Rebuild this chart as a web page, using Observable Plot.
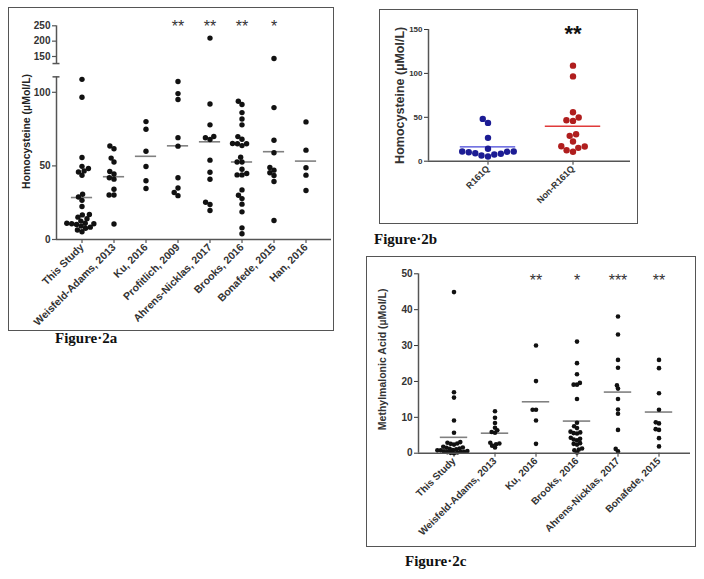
<!DOCTYPE html>
<html><head><meta charset="utf-8">
<script src="https://cdn.jsdelivr.net/npm/d3@7"></script>
<script src="https://cdn.jsdelivr.net/npm/@observablehq/plot@0.6"></script>
<style>
body{margin:0;background:#fff;}
#page{position:relative;width:704px;height:579px;overflow:hidden;background:#fff;}
.box{position:absolute;border:1px solid #555;box-sizing:border-box;}
.box svg{position:absolute;left:0;top:0;}
.cap{position:absolute;font-family:"Liberation Serif","Times New Roman",serif;font-weight:bold;font-size:15px;color:#111;white-space:nowrap;line-height:1;}
</style></head>
<body><div id="page">
<div class="box" id="boxA" style="left:8px;top:7px;width:326px;height:324px"></div>
<div class="cap" style="left:55px;top:331px">Figure·2a</div>
<div class="box" id="boxB" style="left:379px;top:9px;width:259px;height:215px"></div>
<div class="cap" style="left:374px;top:232px">Figure·2b</div>
<div class="box" id="boxC" style="left:366px;top:256px;width:330px;height:291px"></div>
<div class="cap" style="left:405px;top:554px">Figure·2c</div>
</div>
<script>
// ---------- Figure 2a: homocysteine by study ----------
const studiesA = ["This Study","Weisfeld-Adams, 2013","Ku, 2016","Profitlich, 2009","Ahrens-Nicklas, 2017","Brooks, 2016","Bonafede, 2015","Han, 2016"];
const hcyThisStudy = [108.8,96.6,55.7,49.7,48.2,46.6,45.9,43.6,30.7,28.9,26.6,22.4,17.0,16.7,15.2,14.1,12.5,11.0,11.0,10.7,10.7,10.2,9.1,8.4,7.6,6.5,5.3];
const hcyWeisfeld = [63.5,61.7,55.3,52.6,46.2,44.5,42.0,41.0,34.1,30.2,30.2,10.5];
const hcyKu = [80.1,74.9,60.0,49.6,39.9,34.6];
const hcyProfitlich = [107.3,99.1,95.1,69.2,63.4,41.9,35.0,31.9,29.8];
const hcyAhrens = [210,92.1,77.9,70.0,69.1,67.9,53.9,45.7,40.9,25.3,23.8,19.7];
const hcyBrooks = [93.9,91.7,86.2,81.9,77.9,69.9,68.1,65.2,65.0,65.0,63.8,55.9,52.7,52.7,47.7,44.8,43.9,43.9,33.7,30.1,27.8,24.0,18.8,7.9,3.9];
const hcyBonafede = [143.5,89.6,67.4,58.9,48.9,47.1,45.3,43.5,39.4,12.9];
const hcyHan = [79.9,60.7,48.7,43.7,33.3];
const starStudiesA = ["Profitlich, 2009","Ahrens-Nicklas, 2017","Brooks, 2016","Bonafede, 2015"];
const starLabelsA = ["**","**","**","*"];
const yTicksA = [0,50,100,150,200,250];
const yMaxA = 250;

// ---------- Figure 2b: R161Q vs non-R161Q ----------
const groupsB = ["R161Q","Non-R161Q"];
const hcyR161Q = [48.2,43.6,26.6,14.1,11.0,11.0,10.7,10.2,9.1,8.4,7.6,6.5,5.3];
const hcyNonR161Q = [108.8,96.6,55.7,49.7,46.6,45.9,30.7,28.9,22.4,17.0,16.7,15.2,12.5,10.7];
const starGroupsB = ["Non-R161Q"];
const starLabelsB = ["**"];
const yTicksB = [0,50,100,150];

// ---------- Figure 2c: methylmalonic acid by study ----------
const studiesC = ["This Study","Weisfeld-Adams, 2013","Ku, 2016","Brooks, 2016","Ahrens-Nicklas, 2017","Bonafede, 2015"];
const mmaThisStudy = [44.9,17.0,15.5,9.1,5.7,3.1,2.9,2.7,2.6,2.4,1.8,1.6,1.5,1.3,1.2,1.1,0.9,0.8,0.8,0.6,0.5,0.4,0.4,0.3,0.2,0.1,0.0];
const mmaWeisfeld = [11.7,9.9,8.4,7.1,6.4,5.9,5.7,2.9,2.7,2.5,2.1,1.6];
const mmaKu = [30.0,20.1,12.1,12.1,9.1,2.6];
const mmaBrooks = [31.1,25.1,22.0,19.6,19.1,19.1,15.1,8.5,7.5,7.0,6.0,5.8,5.6,5.5,4.3,4.0,3.8,3.6,2.8,2.6,2.4,1.3,1.0,0.8,0.2];
const mmaAhrens = [38.1,33.1,26.0,23.8,18.9,18.0,15.1,12.2,11.0,6.5,1.2,0.5];
const mmaBonafede = [26.0,23.7,16.7,12.1,8.6,8.3,6.7,6.5,4.2,1.9];
const starStudiesC = ["Ku, 2016","Brooks, 2016","Ahrens-Nicklas, 2017","Bonafede, 2015"];
const starLabelsC = ["**","*","***","**"];
const yTicksC = [0,10,20,30,40,50];

const FONT = "'Liberation Sans', Arial, sans-serif";
const AXIS = "#555";
const baseStyle = (size) => ({background: "transparent", fontFamily: FONT, fontSize: size + "px", fontWeight: "bold", color: "#333", overflow: "visible"});

// Broken y axis of Figure 2a: linear up to breakLow, a gap, then a compressed segment from breakHigh.
const breakLow = 110.5, breakHigh = 127, breakGap = 9.03, upperScale = 0.2085;
const brk = v => v <= breakLow ? v : breakLow + breakGap + (v - breakHigh) * upperScale;

function sizeLabel(svg, label, size) {
  svg.querySelectorAll("text").forEach(t => {
    if (t.textContent.trim().startsWith(label)) t.style.fontSize = size + "px";
  });
}
// long table: one row per dot, with its group mean attached
function long(cats, series, key) {
  return cats.flatMap((c, i) => {
    const m = d3.mean(series[i]);
    return d3.sort(series[i]).map(v => ({[key]: c, value: v, mean: m}));
  });
}

// ===== Panel A =====
{
  const data = long(studiesA, [hcyThisStudy,hcyWeisfeld,hcyKu,hcyProfitlich,hcyAhrens,hcyBrooks,hcyBonafede,hcyHan], "study");
  const starOf = new Map(starStudiesA.map((s, i) => [s, starLabelsA[i]]));
  const W = 324, H = 322, ML = 47, MT = 10, MB = 91;
  const yScale = {domain: [0, brk(yMaxA)], range: [231, 17.3]};
  const facetPlot = Plot.plot({
    width: W, height: H, marginLeft: ML, marginRight: 2, marginTop: MT, marginBottom: MB,
    style: baseStyle(10.5),
    facet: {data, x: "study"},
    fx: {domain: studiesA, paddingInner: 0.1, paddingOuter: 0.2167, axis: "bottom", tickRotate: -45, tickSize: 4, tickPadding: 2, label: null},
    y: {...yScale, axis: null},
    marks: [
      Plot.ruleY(data, Plot.selectFirst({y: d => brk(d.mean), stroke: "#808080", strokeWidth: 1.6, insetLeft: 3.9, insetRight: 3.9})),
      Plot.dot(data, Plot.dodgeX({anchor: "middle", padding: -0.5}, {y: d => brk(d.value), r: 2.7, fill: "#111", stroke: "none"})),
      Plot.text(data, Plot.selectFirst({text: d => starOf.get(d.study) ?? "", frameAnchor: "top", lineAnchor: "middle", dy: 8, fontSize: 16, fontWeight: "normal", fill: "#333"}))
    ]
  });
  const axisPlot = Plot.plot({
    width: W, height: H, marginLeft: ML, marginRight: 2, marginTop: MT, marginBottom: MB,
    style: baseStyle(10),
    x: {domain: [0, 275], axis: null},
    y: {...yScale, axis: null},
    marks: [
      Plot.ruleX([[0, breakLow], [breakHigh, yMaxA]], {x: 0, y1: d => brk(d[0]), y2: d => brk(d[1]), stroke: AXIS, strokeWidth: 1.5}),
      Plot.ruleY([breakLow, breakHigh], {y: brk, x1: -3.5, x2: 3.5, stroke: AXIS, strokeWidth: 1.5}),
      Plot.ruleY(yTicksA, {y: brk, x1: -4, x2: 0, stroke: AXIS, strokeWidth: 1.2}),
      Plot.text(yTicksA, {y: brk, x: -6, text: d => String(d), textAnchor: "end", fill: "#333"}),
      Plot.text(["Homocysteine (µMol/L)"], {frameAnchor: "left", textAnchor: "middle", lineAnchor: "middle", dx: -30, dy: 2.5, rotate: -90, text: d => d, fontSize: 10.5, fill: "#222"}),
      Plot.ruleY([0], {stroke: AXIS, strokeWidth: 1.5})
    ]
  });
  document.getElementById("boxA").append(facetPlot, axisPlot);
}

// ===== Panel B =====
{
  const data = long(groupsB, [hcyR161Q, hcyNonR161Q], "group");
  const starOf = new Map(starGroupsB.map((s, i) => [s, starLabelsB[i]]));
  const W = 257, H = 213, ML = 48, MT = 19, MB = 62.3;
  const yRange = [150.7, 19];
  const isR = d => d.group === "R161Q";
  const isN = d => d.group !== "R161Q";
  const facetPlot = Plot.plot({
    width: W, height: H, marginLeft: ML, marginRight: 5, marginTop: MT, marginBottom: MB,
    style: baseStyle(9),
    facet: {data, x: "group"},
    fx: {domain: groupsB, paddingInner: 0.3, paddingOuter: 0.35, axis: "bottom", tickRotate: -45, tickSize: 4, tickPadding: 2, label: null},
    y: {domain: [0, 150], range: yRange, axis: null},
    marks: [
      Plot.ruleY(data, Plot.selectFirst({filter: isR, y: "mean", stroke: "#4444d8", strokeWidth: 1.3, insetLeft: 1.8, insetRight: 1.8})),
      Plot.ruleY(data, Plot.selectFirst({filter: isN, y: "mean", stroke: "#e03a3a", strokeWidth: 1.3, insetLeft: 1.8, insetRight: 1.8})),
      Plot.dot(data, Plot.dodgeX({anchor: "middle", padding: 0.2}, {filter: isR, y: "value", r: 3.2, fill: "#1c1c94", stroke: "none"})),
      Plot.dot(data, Plot.dodgeX({anchor: "middle", padding: 0.2}, {filter: isN, y: "value", r: 3.2, fill: "#b01e1e", stroke: "none"})),
      Plot.text(data, Plot.selectFirst({text: d => starOf.get(d.group) ?? "", frameAnchor: "top", lineAnchor: "middle", dy: 4.5, fontSize: 22, fontWeight: "bold", fill: "#111"}))
    ]
  });
  const axisPlot = Plot.plot({
    width: W, height: H, marginLeft: ML, marginRight: 7, marginTop: MT, marginBottom: MB,
    style: baseStyle(8),
    x: {domain: [0, 202], axis: null},
    y: {domain: [0, 150], range: yRange, ticks: yTicksB, tickSize: 4, tickPadding: 2, label: "Homocysteine (µMol/L)", labelAnchor: "center", labelOffset: 33, labelArrow: false},
    marks: [
      Plot.ruleX([0], {x: 0, y1: 0, y2: 150, stroke: AXIS, strokeWidth: 1.5}),
      Plot.ruleY([0], {stroke: AXIS, strokeWidth: 1.5})
    ]
  });
  sizeLabel(axisPlot, "Homocysteine", 12.5);
  document.getElementById("boxB").append(facetPlot, axisPlot);
}

// ===== Panel C =====
{
  const data = long(studiesC, [mmaThisStudy,mmaWeisfeld,mmaKu,mmaBrooks,mmaAhrens,mmaBonafede], "study");
  const starOf = new Map(starStudiesC.map((s, i) => [s, starLabelsC[i]]));
  const W = 328, H = 289, ML = 51, MT = 8, MB = 93.3;
  const yRange = [195.7, 16.3];
  const facetPlot = Plot.plot({
    width: W, height: H, marginLeft: ML, marginRight: 2, marginTop: MT, marginBottom: MB,
    style: baseStyle(10),
    facet: {data, x: "study"},
    fx: {domain: studiesC, paddingInner: 0.1, paddingOuter: 0.34, axis: "bottom", tickRotate: -45, tickSize: 4, tickPadding: 2, label: null},
    y: {domain: [0, 50], range: yRange, axis: null},
    marks: [
      Plot.ruleY(data, Plot.selectFirst({y: "mean", stroke: "#808080", strokeWidth: 1.6, insetLeft: 4.8, insetRight: 4.8})),
      Plot.dot(data, Plot.dodgeX({anchor: "middle", padding: -1.2}, {y: "value", r: 2.3, fill: "#111", stroke: "none"})),
      Plot.text(data, Plot.selectFirst({text: d => starOf.get(d.study) ?? "", frameAnchor: "top", lineAnchor: "middle", dy: 15, fontSize: 16, fontWeight: "normal", fill: "#333"}))
    ]
  });
  const axisPlot = Plot.plot({
    width: W, height: H, marginLeft: ML, marginRight: 5, marginTop: MT, marginBottom: MB,
    style: baseStyle(10),
    x: {domain: [0, 272], axis: null},
    y: {domain: [0, 50], range: yRange, ticks: yTicksC, tickSize: 4, tickPadding: 2, label: "Methylmalonic Acid (µMol/L)", labelAnchor: "center", labelOffset: 40, labelArrow: false},
    marks: [
      Plot.ruleX([0], {x: 0, y1: 0, y2: 50, stroke: AXIS, strokeWidth: 1.5}),
      Plot.ruleY([0], {stroke: AXIS, strokeWidth: 1.5})
    ]
  });
  sizeLabel(axisPlot, "Methylmalonic", 10.5);
  document.getElementById("boxC").append(facetPlot, axisPlot);
}
</script>
</body></html>
